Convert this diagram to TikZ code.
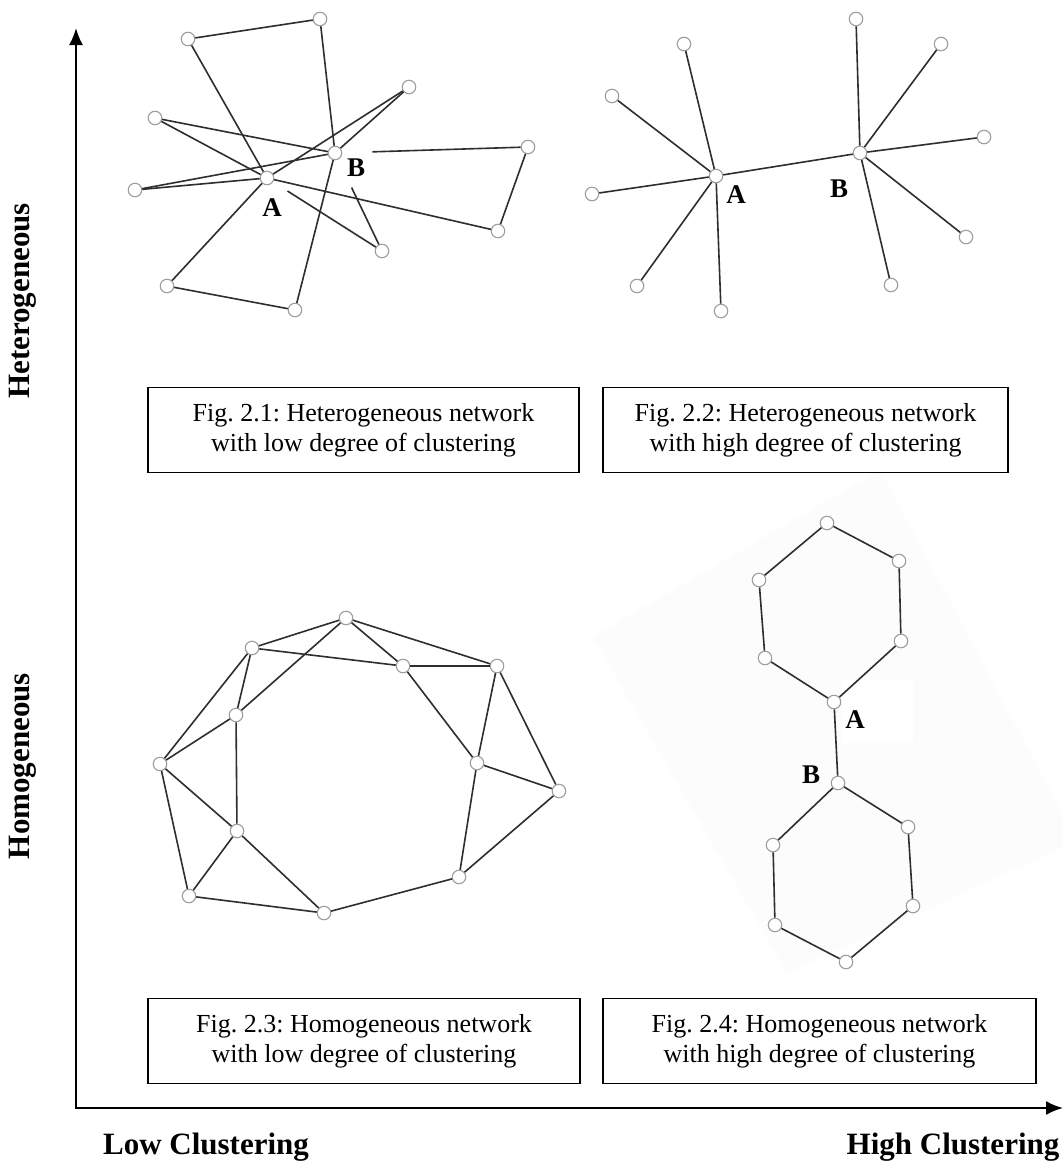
\documentclass[tikz,border=0pt]{standalone}
\usepackage{fontspec}
\setmainfont{Liberation Serif}
\usetikzlibrary{arrows.meta}
\frenchspacing
\begin{document}
\begin{tikzpicture}[x=1pt,y=-1pt,
  vtx/.style={circle,draw=black!38,fill=white,line width=1.1pt,inner sep=0pt,minimum size=13.5pt},
  edge/.style={draw=black!82,line width=1.6pt},
  lbl/.style={font=\fontsize{27}{31}\selectfont\bfseries,inner sep=1pt},
  caption/.style={draw=black,line width=1.5pt,align=center,inner sep=0pt,
    font=\fontsize{26}{30}\selectfont,minimum height=85pt},
  axislabel/.style={font=\fontsize{31}{36}\selectfont\bfseries},
  axis/.style={line width=2pt,{Latex[length=17pt,width=14pt]}-{Latex[length=17pt,width=14pt]}}
]
\useasboundingbox[fill=white] (0,0) rectangle (1063,1170);

% faint background behind fig 2.4
\fill[black!1.2] (593,637) -- (880,470) -- (1063,815) -- (1063,847) -- (787,973) -- cycle;
\fill[white] (842,680) rectangle (913,743);

% axes
\coordinate (ytop) at (76,28);
\coordinate (xend) at (1063,1108);
\draw[axis] (ytop) |- (xend);
\node[axislabel,rotate=90] (het) at (23,301) {Heterogeneous};
\node[axislabel,rotate=90] (hom) at (23,766) {Homogeneous};
\node[axislabel] (lowc) at (206,1147) {Low Clustering};
\node[axislabel] (highc) at (953,1147) {High Clustering};

% captions
\node[caption,minimum width=431pt] (cap1) at (363.5,430) {Fig. 2.1: Heterogeneous network\\with low degree of clustering};
\node[caption,minimum width=405pt] (cap2) at (805.5,430) {Fig. 2.2: Heterogeneous network\\with high degree of clustering};
\node[caption,minimum width=432pt] (cap3) at (364,1041) {Fig. 2.3: Homogeneous network\\with low degree of clustering};
\node[caption,minimum width=433pt] (cap4) at (819.5,1041) {Fig. 2.4: Homogeneous network\\with high degree of clustering};

% ---------- Fig 2.1 ----------
\node[vtx] (A1) at (267,178) {};
\node[vtx] (B1) at (335,153) {};
\foreach \n/\p in {a1/{(188,39)},a2/{(320,19)},a3/{(409,87)},a4/{(155,118)},a5/{(528,147)},
  a6/{(135,190)},a7/{(498,231)},a8/{(382,251)},a9/{(167,286)},a10/{(295,310)}}
  \node[vtx] (\n) at \p {};
\draw[edge] (a1) -- (a2);
\draw[edge] (a1) -- (A1);
\draw[edge] (a2) -- (B1);
\draw[edge] (a3) -- (B1);
\draw[edge] (a3) -- (A1);
\draw[edge] (a4) -- (B1);
\draw[edge] (a4) -- (A1);
\draw[edge] (a6) -- (A1);
\draw[edge] (a6) -- (B1);
\draw[edge,shorten <=30pt] (B1) -- (a5);
\draw[edge] (a5) -- (a7);
\draw[edge] (A1) -- (a7);
\draw[edge,shorten <=17pt] (A1) -- (a8);
\draw[edge,shorten <=31pt] (B1) -- (a8);
\draw[edge] (A1) -- (a9);
\draw[edge] (a9) -- (a10);
\draw[edge] (B1) -- (a10);
\node[lbl] (lA1) at (272,208) {A};
\node[lbl] (lB1) at (356,168) {B};

% ---------- Fig 2.2 ----------
\node[vtx] (A2) at (716,176) {};
\node[vtx] (B2) at (860,153) {};
\foreach \n/\p in {b1/{(684,44)},b2/{(612,96)},b3/{(592,194)},b4/{(637,286)},b5/{(721,311)}}
  \node[vtx] (\n) at \p {};
\foreach \n/\p in {c1/{(856,19)},c2/{(941,44)},c3/{(984,137)},c4/{(966,237)},c5/{(891,285)}}
  \node[vtx] (\n) at \p {};
\foreach \n in {b1,b2,b3,b4,b5} \draw[edge] (A2) -- (\n);
\foreach \n in {c1,c2,c3,c4,c5} \draw[edge] (B2) -- (\n);
\draw[edge] (A2) -- (B2);
\node[lbl] (lA2) at (736,195) {A};
\node[lbl] (lB2) at (839,189) {B};

% ---------- Fig 2.3 ----------
\foreach \n/\p in {d1/{(346,618)},d2/{(252,648)},d3/{(403,666)},d4/{(497,666)},d5/{(236,715)},
  d6/{(160,764)},d7/{(477,763)},d8/{(559,791)},d9/{(237,831)},d10/{(459,877)},d11/{(189,896)},d12/{(324,913)}}
  \node[vtx] (\n) at \p {};
\foreach \u/\v in {d2/d1,d1/d3,d1/d4,d1/d5,d2/d3,d3/d4,d2/d5,d2/d6,d5/d6,d5/d9,d6/d9,d6/d11,
  d9/d11,d9/d12,d11/d12,d12/d10,d10/d7,d10/d8,d7/d8,d4/d7,d4/d8,d3/d7}
  \draw[edge] (\u) -- (\v);

% ---------- Fig 2.4 ----------
\foreach \n/\p in {h1/{(827,523)},h2/{(899,561)},h3/{(759,580)},h4/{(901,641)},h5/{(765,658)},
  A4/{(834,702)},B4/{(838,783)},h6/{(773,845)},h7/{(908,827)},h8/{(775,925)},h9/{(913,906)},h10/{(846,962)}}
  \node[vtx] (\n) at \p {};
\foreach \u/\v in {h1/h2,h1/h3,h3/h5,h2/h4,h5/A4,h4/A4,A4/B4,B4/h6,B4/h7,h6/h8,h7/h9,h8/h10,h9/h10}
  \draw[edge] (\u) -- (\v);
\node[lbl] (lA4) at (855,720) {A};
\node[lbl] (lB4) at (811,775) {B};
\end{tikzpicture}
\end{document}
